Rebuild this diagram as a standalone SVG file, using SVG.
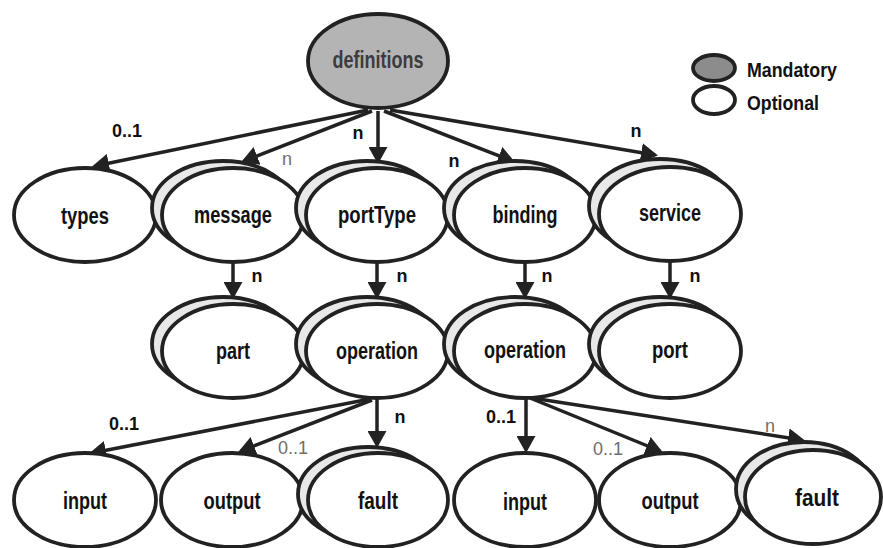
<svg xmlns="http://www.w3.org/2000/svg" width="883" height="548" viewBox="0 0 883 548">
  <defs>
    <style>
      .shape { fill: #ffffff; stroke: #222222; stroke-width: 3.8; }
      .back { fill: #e8e8e8; stroke: #222222; stroke-width: 3.8; }
      .mandatory { fill: #b4b4b4; stroke: #222222; stroke-width: 3.8; }
      .name { font-family: "Liberation Sans", Arial, sans-serif; font-weight: bold; font-size: 23px; fill: #111111; text-anchor: middle; }
      .edge { fill: none; stroke: #222222; stroke-width: 3.5; marker-end: url(#head); }
      .card { font-family: "Liberation Sans", Arial, sans-serif; font-size: 18px; text-anchor: middle; }
      .strong { font-weight: bold; fill: #111111; }
      .faint { fill: #6e6e6e; }
      .legend-text { font-family: "Liberation Sans", Arial, sans-serif; font-weight: bold; font-size: 20px; fill: #111111; }
    </style>
    <marker id="head" markerUnits="userSpaceOnUse" viewBox="0 0 17 19" markerWidth="17" markerHeight="19" refX="14" refY="9.5" orient="auto">
      <path d="M0,0 L17,9.5 L0,19 Z" fill="#222222"/>
    </marker>
  </defs>

  <rect width="883" height="548" fill="#ffffff"/>

  <!-- connectors with their multiplicities -->
  <g id="connectors">
    <path class="edge" d="M368,110 L95,166"/>
    <path class="edge" d="M372,111 L244,161"/>
    <path class="edge" d="M378,111 L378,161"/>
    <path class="edge" d="M384,111 L512,161"/>
    <path class="edge" d="M390,110 L655,155"/>

    <path class="edge" d="M233,262 L233,296"/>
    <path class="edge" d="M377,262 L377,296"/>
    <path class="edge" d="M525,262 L525,296"/>
    <path class="edge" d="M670,262 L670,296"/>

    <path class="edge" d="M370,399 L92,453"/>
    <path class="edge" d="M372,400 L241,451"/>
    <path class="edge" d="M377,398 L377,445"/>
    <path class="edge" d="M526,398 L526,450"/>
    <path class="edge" d="M530,398 L660,451"/>
    <path class="edge" d="M532,398 L802,440"/>

    <text class="card strong" x="127" y="137">0..1</text>
    <text class="card faint" x="287" y="165">n</text>
    <text class="card strong" x="358" y="139">n</text>
    <text class="card strong" x="454" y="167">n</text>
    <text class="card strong" x="636" y="137">n</text>

    <text class="card strong" x="257" y="282">n</text>
    <text class="card strong" x="402" y="282">n</text>
    <text class="card strong" x="547" y="282">n</text>
    <text class="card strong" x="695" y="282">n</text>

    <text class="card strong" x="124" y="430">0..1</text>
    <text class="card faint" x="293" y="454">0..1</text>
    <text class="card strong" x="400" y="423">n</text>
    <text class="card strong" x="501" y="423">0..1</text>
    <text class="card faint" x="608" y="455">0..1</text>
    <text class="card faint" x="770" y="432">n</text>
  </g>

  <!-- root element -->
  <g id="definitions">
    <ellipse class="mandatory" cx="378" cy="61" rx="70" ry="47"/>
    <text class="name" x="378" y="68" textLength="91" lengthAdjust="spacingAndGlyphs" style="fill:#3c3c3c">definitions</text>
  </g>

  <!-- second level -->
  <g id="types">
    <ellipse class="shape" cx="85" cy="215" rx="71" ry="47"/>
    <text class="name" x="85" y="224" textLength="48" lengthAdjust="spacingAndGlyphs">types</text>
  </g>
  <g id="message">
    <ellipse class="back" cx="223" cy="208" rx="71" ry="47"/>
    <ellipse class="shape" cx="233" cy="215" rx="71" ry="47"/>
    <text class="name" x="233" y="223" textLength="78" lengthAdjust="spacingAndGlyphs">message</text>
  </g>
  <g id="portType">
    <ellipse class="back" cx="367" cy="208" rx="71" ry="47"/>
    <ellipse class="shape" cx="377" cy="215" rx="71" ry="47"/>
    <text class="name" x="377" y="223" textLength="78" lengthAdjust="spacingAndGlyphs">portType</text>
  </g>
  <g id="binding">
    <ellipse class="back" cx="515" cy="208" rx="71" ry="47"/>
    <ellipse class="shape" cx="525" cy="215" rx="71" ry="47"/>
    <text class="name" x="525" y="223" textLength="65" lengthAdjust="spacingAndGlyphs">binding</text>
  </g>
  <g id="service">
    <ellipse class="back" cx="660" cy="206" rx="71" ry="47"/>
    <ellipse class="shape" cx="670" cy="214" rx="71" ry="47"/>
    <text class="name" x="670" y="221" textLength="62" lengthAdjust="spacingAndGlyphs">service</text>
  </g>

  <!-- third level -->
  <g id="part">
    <ellipse class="back" cx="223" cy="344" rx="71" ry="47"/>
    <ellipse class="shape" cx="233" cy="351" rx="71" ry="47"/>
    <text class="name" x="233" y="359" textLength="34" lengthAdjust="spacingAndGlyphs">part</text>
  </g>
  <g id="portType-operation">
    <ellipse class="back" cx="367" cy="344" rx="71" ry="47"/>
    <ellipse class="shape" cx="377" cy="351" rx="71" ry="47"/>
    <text class="name" x="377" y="359" textLength="82" lengthAdjust="spacingAndGlyphs">operation</text>
  </g>
  <g id="binding-operation">
    <ellipse class="back" cx="515" cy="344" rx="71" ry="47"/>
    <ellipse class="shape" cx="525" cy="351" rx="71" ry="47"/>
    <text class="name" x="525" y="358" textLength="82" lengthAdjust="spacingAndGlyphs">operation</text>
  </g>
  <g id="port">
    <ellipse class="back" cx="660" cy="344" rx="71" ry="47"/>
    <ellipse class="shape" cx="670" cy="351" rx="71" ry="47"/>
    <text class="name" x="670" y="358" textLength="36" lengthAdjust="spacingAndGlyphs">port</text>
  </g>

  <!-- fourth level, portType side -->
  <g id="portType-input">
    <ellipse class="shape" cx="85" cy="500" rx="71" ry="47"/>
    <text class="name" x="85" y="509" textLength="44" lengthAdjust="spacingAndGlyphs">input</text>
  </g>
  <g id="portType-output">
    <ellipse class="shape" cx="232" cy="500" rx="71" ry="47"/>
    <text class="name" x="232" y="509" textLength="57" lengthAdjust="spacingAndGlyphs">output</text>
  </g>
  <g id="portType-fault">
    <ellipse class="back" cx="368" cy="494" rx="70" ry="47"/>
    <ellipse class="shape" cx="378" cy="500" rx="70" ry="47"/>
    <text class="name" x="378" y="509" textLength="40" lengthAdjust="spacingAndGlyphs">fault</text>
  </g>

  <!-- fourth level, binding side -->
  <g id="binding-input">
    <ellipse class="shape" cx="525" cy="500" rx="71" ry="47"/>
    <text class="name" x="525" y="510" textLength="44" lengthAdjust="spacingAndGlyphs">input</text>
  </g>
  <g id="binding-output">
    <ellipse class="shape" cx="670" cy="500" rx="71" ry="47"/>
    <text class="name" x="670" y="509" textLength="57" lengthAdjust="spacingAndGlyphs">output</text>
  </g>
  <g id="binding-fault">
    <ellipse class="back" cx="804" cy="489" rx="68" ry="47"/>
    <ellipse class="shape" cx="813" cy="497" rx="68" ry="47"/>
    <text class="name" x="817" y="506" textLength="44" lengthAdjust="spacingAndGlyphs">fault</text>
  </g>

  <!-- key -->
  <g id="legend">
    <ellipse class="mandatory" cx="714" cy="68" rx="21" ry="13" style="fill:#8c8c8c"/>
    <text class="legend-text" x="747" y="77" textLength="90" lengthAdjust="spacingAndGlyphs">Mandatory</text>
    <ellipse class="shape" cx="714" cy="100" rx="21" ry="14"/>
    <text class="legend-text" x="747" y="110" textLength="72" lengthAdjust="spacingAndGlyphs">Optional</text>
  </g>
</svg>
